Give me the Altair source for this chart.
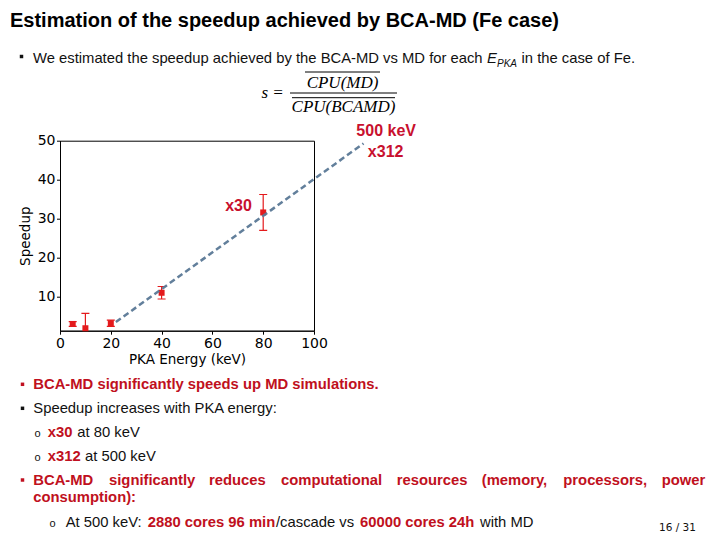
import altair as alt
import pandas as pd

# ---------------- data ----------------
energy = [5, 10, 20, 40, 80]                 # PKA energy (keV)
speedup = [3.0, 1.9, 3.2, 11.0, 31.6]        # measured speedup
err = [0.6, 3.8, 0.8, 1.6, 4.6]              # error bar half-height
fit_energy = [22.0, 119.5]                   # dashed extrapolation line
fit_speedup = [3.5, 49.3]
x_ticks = [0, 20, 40, 60, 80, 100]
y_ticks = [10, 20, 30, 40, 50]
annot_text = ["500 keV", "x312", "x30"]
annot_energy = [128.4, 128.2, 70.3]
annot_speedup = [51.2, 45.7, 32.0]

TITLE = "Estimation of the speedup achieved by BCA-MD (Fe case)"
INTRO = ["We estimated the speedup achieved by the BCA-MD vs MD for each ", "E", "PKA",
         "in the case of Fe."]
FORMULA = ["s =", "CPU(MD)", "CPU(BCAMD)"]
L1 = "BCA-MD significantly speeds up MD simulations."
L2 = "Speedup increases with PKA energy:"
L3 = ["x30", "at 80 keV"]
L4 = ["x312", "at 500 keV"]
L5 = ["BCA-MD", "significantly", "reduces", "computational", "resources",
      "(memory,", "processors,", "power"]
L6 = "consumption):"
L7 = ["At 500 keV:", "2880 cores 96 min", "/cascade vs", "60000 cores 24h", "with MD"]
PAGE = "16 / 31"

# ---------------- layout / style ----------------
OX, OY = 60.0, 140.7          # page position of plot area's top-left
W, H = 254, 190
BLACK = "#111111"
RED = "#C01020"
DATARED = "#E41A1C"
LINEC = "#5A7896"
SANS = "Liberation Sans"
BODY = 14.8

X_SCALE = alt.Scale(domain=[0, 100], nice=False, zero=False)
Y_SCALE = alt.Scale(domain=[1.27, 50], nice=False, zero=False)
X_AXIS = alt.Axis(values=x_ticks, title="PKA Energy (keV)", grid=False, tickSize=3.5,
                  tickColor="black", domainColor="black", labelFont="DejaVu Sans",
                  labelFontSize=14, labelColor="black", titleFont="DejaVu Sans",
                  titleFontSize=13.5, titleFontWeight="normal", titleColor="black",
                  labelPadding=2, titlePadding=2, format="d", labelFlush=False)
Y_AXIS = alt.Axis(values=y_ticks, title="Speedup", grid=False, tickSize=3.5,
                  tickColor="black", domainColor="black", labelFont="DejaVu Sans",
                  labelFontSize=14, labelColor="black", titleFont="DejaVu Sans",
                  titleFontSize=13.5, titleFontWeight="normal", titleColor="black",
                  labelPadding=1.5, titlePadding=5, format="d", labelFlush=False)


def X(field):
    return alt.X(f"{field}:Q", scale=X_SCALE, axis=X_AXIS)


def Y(field):
    return alt.Y(f"{field}:Q", scale=Y_SCALE, axis=Y_AXIS)


df = pd.DataFrame({"E": energy, "S": speedup, "err": err})
df["lo"] = df["S"] - df["err"]
df["hi"] = df["S"] + df["err"]
fit = pd.DataFrame({"E": fit_energy, "S": fit_speedup})
ann = pd.DataFrame({"E": annot_energy, "S": annot_speedup, "t": annot_text})

bars = alt.Chart(df).mark_rule(color=DATARED, strokeWidth=1.2, clip=True).encode(
    x=X("E"), y=Y("lo"), y2="hi:Q")
cap_lo = alt.Chart(df).mark_point(shape="M-1,0H1", size=64, color=DATARED, strokeWidth=1.2,
                                  filled=False, opacity=1, clip=True).encode(x=X("E"), y=Y("lo"))
cap_hi = alt.Chart(df).mark_point(shape="M-1,0H1", size=64, color=DATARED, strokeWidth=1.2,
                                  filled=False, opacity=1, clip=True).encode(x=X("E"), y=Y("hi"))
pts = alt.Chart(df).mark_square(size=36, color=DATARED, opacity=1).encode(x=X("E"), y=Y("S"))
line = alt.Chart(fit).mark_line(color=LINEC, strokeWidth=2.5, strokeDash=[6, 3.5],
                                opacity=0.95).encode(x=X("E"), y=Y("S"))
ann_txt = alt.Chart(ann).mark_text(font=SANS, fontSize=16, fontWeight="bold", color="#C8102E",
                                   align="center", baseline="alphabetic").encode(
    x=X("E"), y=Y("S"), text="t:N")


def txt(text, x, y, size=BODY, bold=False, color=BLACK, font=SANS, italic=False, align="left"):
    return alt.Chart(alt.Data(values=[{"t": text}])).mark_text(
        align=align, baseline="alphabetic", font=font, fontSize=size,
        fontWeight="bold" if bold else "normal",
        fontStyle="italic" if italic else "normal", color=color).encode(
        x=alt.value(x - OX), y=alt.value(y - OY), text="t:N")


def bullet(x, y, color):
    return alt.Chart(alt.Data(values=[{"b": 1}])).mark_square(size=12, color=color, opacity=1).encode(
        x=alt.value(x - OX), y=alt.value(y - OY))


def hline(x1, x2, y):
    return alt.Chart(alt.Data(values=[{"b": 1}])).mark_rule(color="black", strokeWidth=1).encode(
        x=alt.value(x1 - OX), x2=alt.value(x2 - OX), y=alt.value(y - OY))


layers = [bars, cap_lo, cap_hi, pts, line, ann_txt]

# slide title and intro
layers.append(txt(TITLE, 10, 26.7, size=20, bold=True, color="black"))
layers.append(bullet(21.5, 56.5, BLACK))
layers.append(txt(INTRO[0], 33, 63.3))
layers.append(txt(INTRO[1], 487, 63.3, italic=True))
layers.append(txt(INTRO[2], 497, 66.5, size=10, italic=True))
layers.append(txt(INTRO[3], 521.5, 63.3))

# formula
SERIF = "Liberation Serif"
layers.append(txt(FORMULA[0], 261.5, 97.5, size=17, font=SERIF, italic=True, color="black"))
layers.append(txt(FORMULA[1], 342.5, 88, size=17, font=SERIF, italic=True, color="black", align="center"))
layers.append(txt(FORMULA[2], 343.5, 112, size=17, font=SERIF, italic=True, color="black", align="center"))
layers.append(hline(305, 380, 72))
layers.append(hline(290, 397, 93))
layers.append(hline(292, 395, 97.7))

# bottom bullets
layers.append(bullet(22.5, 384.3, RED))
layers.append(txt(L1, 33.3, 389, bold=True, color=RED))
layers.append(bullet(22.5, 408.3, BLACK))
layers.append(txt(L2, 33.3, 413))
layers.append(txt("o", 34.5, 436.7, size=11))
layers.append(txt(L3[0], 47.7, 436.7, bold=True, color=RED))
layers.append(txt(L3[1], 77.3, 436.7))
layers.append(txt("o", 34.5, 460.7, size=11))
layers.append(txt(L4[0], 47.7, 460.7, bold=True, color=RED))
layers.append(txt(L4[1], 85, 460.7))
layers.append(bullet(22.5, 480, RED))
for word, wx in zip(L5, [33.3, 109, 209, 281, 396.7, 481.7, 563.3, 661.7]):
    layers.append(txt(word, wx, 485, bold=True, color=RED))
layers.append(txt(L6, 33.3, 502.3, bold=True, color=RED))
layers.append(txt("o", 49.5, 527.3, size=11))
for seg, sx, b in zip(L7, [65.7, 147.7, 276, 360, 480], [False, True, False, True, False]):
    layers.append(txt(seg, sx, 527.3, bold=b, color=RED if b else BLACK))
layers.append(txt(PAGE, 659, 531, size=10.5, font="DejaVu Sans", color=BLACK))

chart = alt.layer(*layers).properties(
    width=W, height=H,
    padding={"left": OX - 8, "top": OY - 8, "right": 704 - (OX - 8) - W,
             "bottom": 524 - (OY - 8) - H},
    autosize=alt.AutoSizeParams(type="none"),
    background="white",
).configure_view(stroke="black", strokeWidth=1)

chart.save("out.html", embed_options={"renderer": "svg", "actions": False})
